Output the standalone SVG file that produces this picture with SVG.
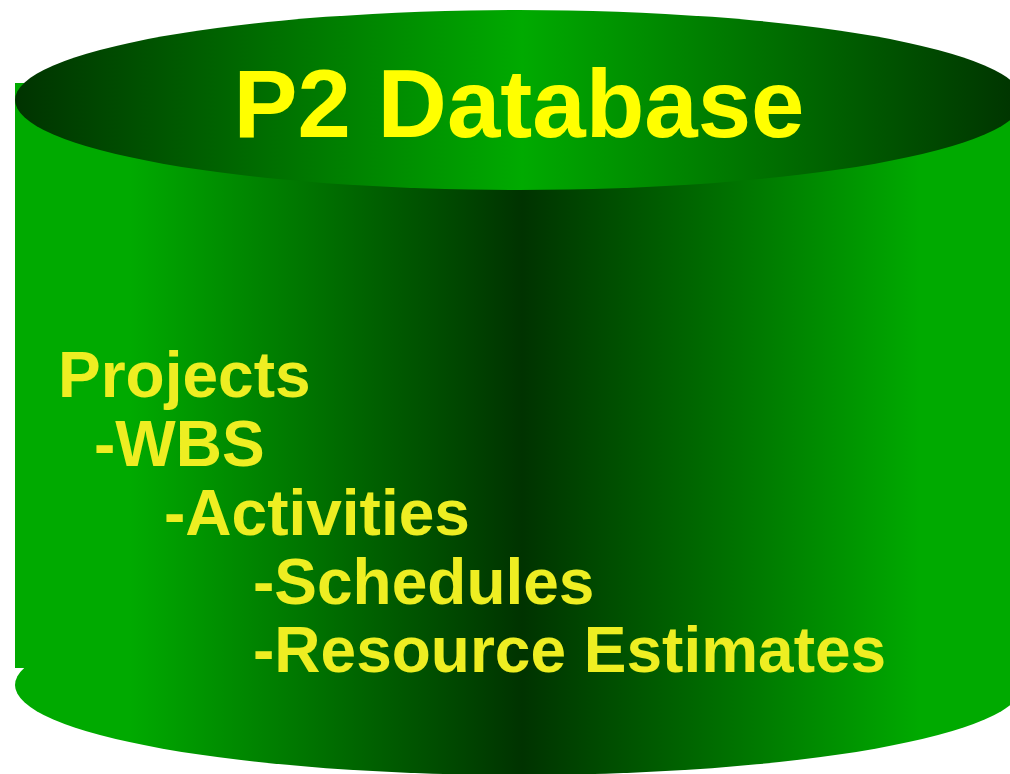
<svg xmlns="http://www.w3.org/2000/svg" width="1010" height="774" viewBox="0 0 1010 774">
<defs>
<linearGradient id="gBody" gradientUnits="userSpaceOnUse" x1="15" y1="0" x2="1023" y2="0">
<stop offset="0" stop-color="#00AA00"/>
<stop offset="0.114" stop-color="#00AA00"/>
<stop offset="0.503" stop-color="#003300"/>
<stop offset="0.898" stop-color="#00AA00"/>
<stop offset="1" stop-color="#00AA00"/>
</linearGradient>
<linearGradient id="gTop" gradientUnits="userSpaceOnUse" x1="15" y1="0" x2="1023" y2="0">
<stop offset="0" stop-color="#003300"/>
<stop offset="0.503" stop-color="#00AA00"/>
<stop offset="1" stop-color="#003300"/>
</linearGradient>
<style>
.title{font-family:"Liberation Sans",Arial,sans-serif;font-weight:bold;font-size:96px;fill:#FFFF00}
.item{font-family:"Liberation Sans",Arial,sans-serif;font-weight:bold;font-size:64px;fill:#EEEE22}
</style>
</defs>
<rect width="1010" height="774" fill="#FFFFFF"/>
<g id="cylinder">
<ellipse cx="519" cy="685" rx="504" ry="90" fill="url(#gBody)"/>
<rect x="15" y="83" width="1010" height="585" fill="url(#gBody)"/>
<ellipse cx="519" cy="100" rx="504" ry="90" fill="url(#gTop)"/>
</g>
<g id="title">
<text class="title" x="519" y="137" text-anchor="middle">P2 Database</text>
</g>
<g id="contents">
<text class="item" x="58" y="397">Projects</text>
<text class="item" x="94" y="466">-WBS</text>
<text class="item" x="164" y="535">-Activities</text>
<text class="item" x="253" y="604">-Schedules</text>
<text class="item" x="253" y="672">-Resource Estimates</text>
</g>
</svg>
